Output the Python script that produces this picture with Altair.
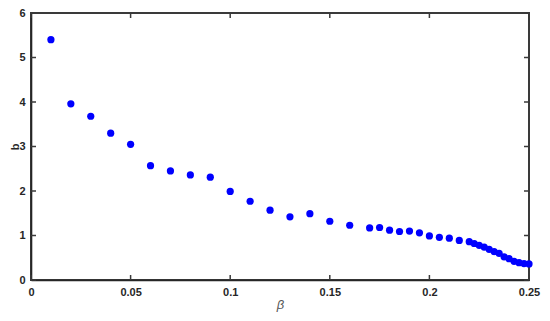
import altair as alt
import pandas as pd

beta = [0.01, 0.02, 0.03, 0.04, 0.05, 0.06, 0.07, 0.08, 0.09, 0.10,
        0.11, 0.12, 0.13, 0.14, 0.15, 0.16, 0.17, 0.175, 0.18, 0.185,
        0.19, 0.195, 0.20, 0.205, 0.21, 0.215,
        0.22, 0.2225, 0.225, 0.2275, 0.23, 0.2325, 0.235, 0.2375, 0.24,
        0.2425, 0.245, 0.2475, 0.25]
b = [5.40, 3.96, 3.68, 3.30, 3.05, 2.57, 2.45, 2.36, 2.31, 1.99,
     1.77, 1.57, 1.42, 1.49, 1.32, 1.23, 1.17, 1.18, 1.12, 1.09,
     1.10, 1.06, 0.99, 0.96, 0.94, 0.89,
     0.86, 0.82, 0.78, 0.74, 0.69, 0.64, 0.60, 0.52, 0.48,
     0.42, 0.39, 0.37, 0.36]

x_ticks = [0, 0.05, 0.1, 0.15, 0.2, 0.25]
y_ticks = [0, 1, 2, 3, 4, 5, 6]

W, H = 498, 267
TL = 5
LW = 1.6
FONT = "Liberation Sans"
AX = "#262626"
FRAME = "#3a3a3a"

df = pd.DataFrame({"beta": beta, "b": b})
xt = pd.DataFrame({"t": x_ticks})
yt = pd.DataFrame({"t": y_ticks})

xscale = alt.Scale(domain=[0, 0.25], nice=False, zero=False)
yscale = alt.Scale(domain=[0, 6], nice=False)

points = alt.Chart(df).mark_circle(size=52, color="#0000FF", opacity=1).encode(
    x=alt.X("beta:Q", scale=xscale, title="β",
            axis=alt.Axis(values=x_ticks, ticks=False, domain=True, domainColor=AX,
                          domainWidth=LW, grid=False, labelFlush=False,
                          labelFont=FONT, labelFontWeight="bold", labelFontSize=11,
                          labelColor=AX, labelPadding=6,
                          labelExpr="datum.value == 0 ? '0' : format(datum.value, '')",
                          titleFont=FONT, titleFontStyle="italic", titleFontWeight="normal",
                          titleFontSize=13, titleColor="#555555", titlePadding=1)),
    y=alt.Y("b:Q", scale=yscale, title="b",
            axis=alt.Axis(values=y_ticks, ticks=False, domain=True, domainColor=AX,
                          domainWidth=LW, grid=False, labelFlush=False,
                          labelFont=FONT, labelFontWeight="bold", labelFontSize=11,
                          labelColor=AX, labelPadding=6,
                          titleFont=FONT, titleFontWeight="bold", titleFontSize=11,
                          titleColor=AX, titleBaseline="alphabetic",
                          titleX=-13, titleY=H / 2)),
)

rule_style = dict(color=FRAME, strokeWidth=1.5)
bottom_ticks = alt.Chart(xt).mark_rule(**rule_style).encode(
    x=alt.X("t:Q", scale=xscale), y=alt.value(H), y2=alt.value(H - TL))
top_ticks = alt.Chart(xt).mark_rule(**rule_style).encode(
    x=alt.X("t:Q", scale=xscale), y=alt.value(0), y2=alt.value(TL))
left_ticks = alt.Chart(yt).mark_rule(**rule_style).encode(
    y=alt.Y("t:Q", scale=yscale), x=alt.value(0), x2=alt.value(TL))
right_ticks = alt.Chart(yt).mark_rule(**rule_style).encode(
    y=alt.Y("t:Q", scale=yscale), x=alt.value(W), x2=alt.value(W - TL))

chart = alt.layer(points, bottom_ticks, top_ticks, left_ticks, right_ticks).properties(
    width=W, height=H,
    autosize=alt.AutoSizeParams(type="none"),
    padding={"left": 23, "top": 5, "right": 13, "bottom": 33},
).configure_view(stroke=FRAME, strokeWidth=2)

chart.save("out.html", embed_options={"renderer": "svg", "actions": False})
